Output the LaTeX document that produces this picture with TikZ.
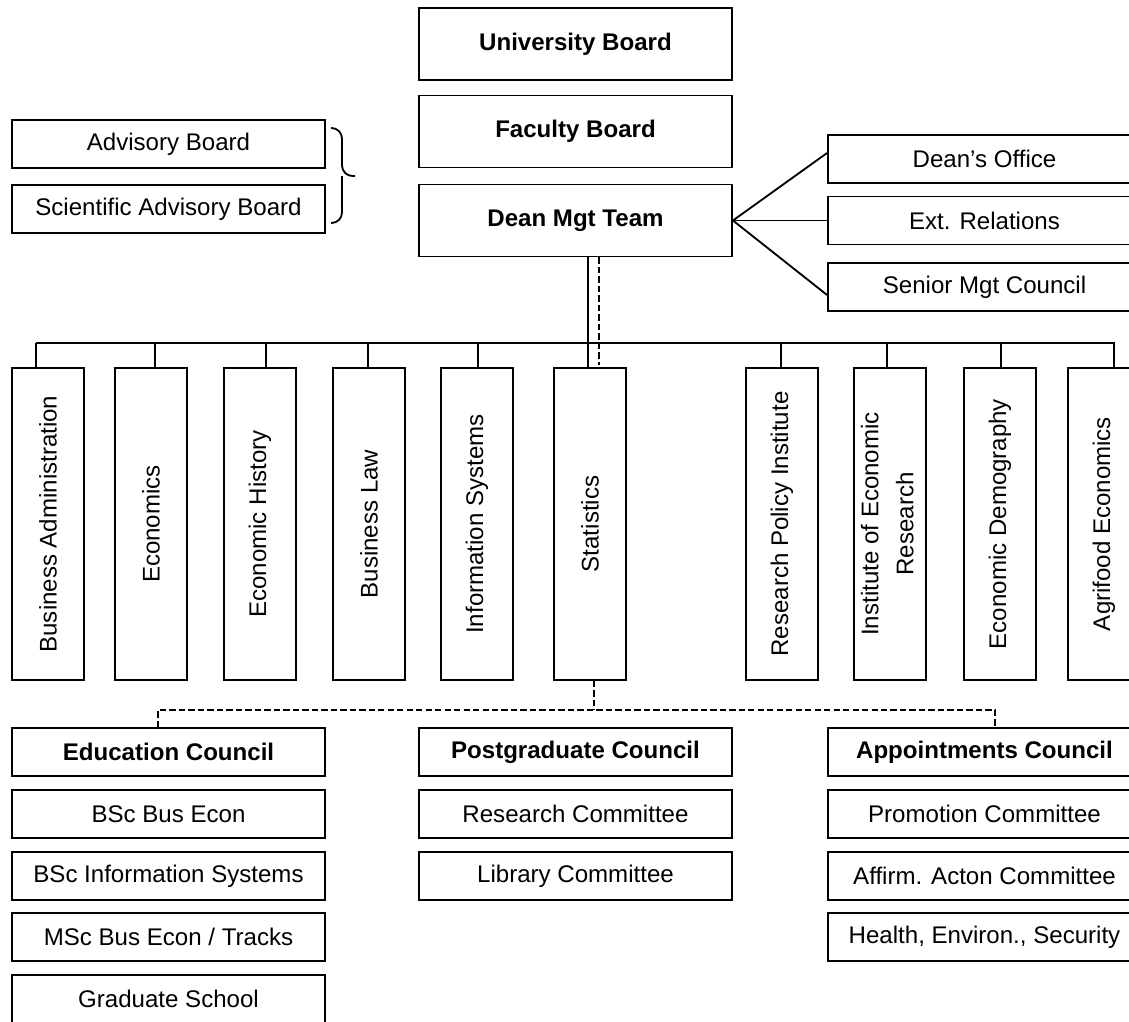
\documentclass[tikz,border=0pt]{standalone}
\usepackage{fontspec}
\setmainfont{Liberation Sans}
\usetikzlibrary{calc}
\begin{document}
\begin{tikzpicture}[x=0.02cm,y=-0.02cm,
  every node/.style={font=\fontsize{13.7}{16.4}\selectfont},
  box/.style={draw, line width=1.1pt, inner sep=0pt, minimum width=6.26cm, minimum height=0.96cm},
  boldbox/.style={box, font=\fontsize{13.7}{16.4}\selectfont\bfseries},
  bigbox/.style={boldbox, minimum height=1.44cm},
  dept/.style={draw, line width=1.1pt, inner sep=0pt, minimum width=1.44cm, minimum height=6.24cm},
  link/.style={line width=1.05pt},
  dlink/.style={line width=1.15pt, dash pattern=on 3.6pt off 1.8pt},
]
\useasboundingbox (0,0) rectangle (1129,1021);
\clip (0,0) rectangle (1129,1021);

% governing boards
\node[bigbox] (ub) at (575.5,44) {University Board};
\node[bigbox] (fb) at (575.5,131.5) {Faculty Board};
\node[bigbox] (dm) at (575.5,220.5) {Dean Mgt Team};

% advisory boards with their brace
\node[box] (ab) at (168.5,144) {Advisory Board};
\node[box] (sab) at (168.5,209) {Scientific Advisory Board};
\coordinate (brt) at (331,128);
\coordinate (brb) at (331,223);
\coordinate (brm) at (342,176);
\coordinate (brtip) at (355,176);
\draw[link, rounded corners=6] (brt) -| (brm) -- (brtip);
\draw[link, rounded corners=6] (brb) -| (brm);

% offices reporting to the dean
\node[box] (do) at (984.5,159) {Dean’s Office};
\node[box] (er) at (984.5,220.5) {Ext. Relations};
\node[box] (sm) at (984.5,287) {Senior Mgt Council};
\draw[link] (dm.east) -- ($(do.west)+(0,-6)$);
\draw[link] (dm.east) -- (er.west);
\draw[link] (dm.east) -- ($(sm.west)+(0,8)$);

% departments
\node[dept] (d1) at (48,524) {\rotatebox{90}{Business Administration}};
\node[dept] (d2) at (151,524) {\rotatebox{90}{Economics}};
\node[dept] (d3) at (260,524) {\rotatebox{90}{Economic History}};
\node[dept] (d4) at (369,524) {\rotatebox{90}{Business Law}};
\node[dept] (d5) at (477,524) {\rotatebox{90}{Information Systems}};
\node[dept] (d6) at (590,524) {\rotatebox{90}{Statistics}};
\node[dept] (d7) at (782,524) {\rotatebox{90}{Research Policy Institute}};
\node[dept] (d8) at (890,524) {\rotatebox{90}{\begin{tabular}{@{}c@{}}Institute of Economic\\[3.5pt]Research\end{tabular}}};
\node[dept] (d9) at (1000,524) {\rotatebox{90}{Economic Demography}};
\node[dept] (d10) at (1104,524) {\rotatebox{90}{Agrifood Economics}};

% bus from the dean's team to the departments
\coordinate (busL) at (36,343);
\coordinate (busR) at (1115,343);
\draw[link] (busL) -- (busR);
\foreach \x/\n in {36/d1,155/d2,266/d3,368/d4,478/d5,781/d7,887/d8,1001/d9,1114/d10}
  \draw[link] (\x,343) -- (\x,343 |- \n.north);
\draw[link] (588,0 |- dm.south) -- (588,0 |- d6.north);
\draw[dlink] (599,0 |- dm.south) -- (599,365);

% councils and committees
\node[boldbox] (ec) at (168.5,752) {Education Council};
\node[box] (b1) at (168.5,814) {BSc Bus Econ};
\node[box] (b2) at (168.5,876) {BSc Information Systems};
\node[box] (b3) at (168.5,937) {MSc Bus Econ / Tracks};
\node[box] (b4) at (168.5,999) {Graduate School};

\node[boldbox] (pc) at (575.5,752) {Postgraduate Council};
\node[box] (r1) at (575.5,814) {Research Committee};
\node[box] (r2) at (575.5,876) {Library Committee};

\node[boldbox] (ac) at (984.5,752) {Appointments Council};
\node[box] (p1) at (984.5,814) {Promotion Committee};
\node[box] (p2) at (984.5,876) {Affirm. Acton Committee};
\node[box] (p3) at (984.5,937) {Health, Environ., Security};

% dashed links from Statistics to the councils
\coordinate (sj) at (594,710);
\draw[dlink] (594,0 |- d6.south) -- (sj);
\draw[dlink] (158,0 |- ec.north) |- (sj) -| (995,0 |- ac.north);
\end{tikzpicture}
\end{document}
